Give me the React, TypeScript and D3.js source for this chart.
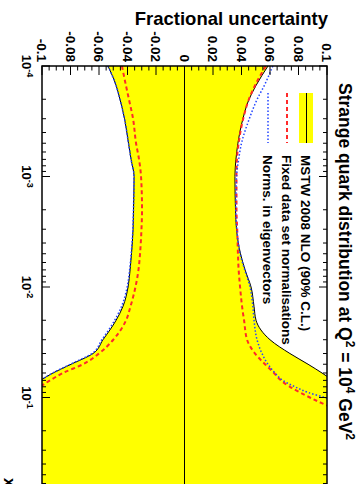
import React from "react";
import * as d3 from "d3";

// x grid (momentum fraction) and fractional uncertainties
const xs = [1e-4, 1.5e-4, 2e-4, 3e-4, 5e-4, 7e-4, 1e-3, 2e-3, 3e-3, 5e-3, 7e-3, 1e-2, 1.5e-2, 2e-2, 3e-2, 4e-2, 5e-2, 6e-2, 7e-2, 8e-2, 9e-2, 1e-1, 1.5e-1, 2e-1, 3e-1, 5e-1, 1];
const bandUp = [0.0586, 0.0502, 0.0453, 0.041, 0.0375, 0.0361, 0.0354, 0.0358, 0.0365, 0.0393, 0.0425, 0.0467, 0.0488, 0.0502, 0.06, 0.074, 0.0867, 0.0965, 0.104, 0.11, 0.117, 0.125, 0.16, 0.2, 0.3, 0.5, 1];
const bandDn = [-0.0537, -0.048, -0.0453, -0.0421, -0.0393, -0.0375, -0.0354, -0.0358, -0.0361, -0.0372, -0.0382, -0.0396, -0.0432, -0.048, -0.0572, -0.0642, -0.0796, -0.0923, -0.1014, -0.11, -0.117, -0.125, -0.16, -0.2, -0.3, -0.5, -1];
const fixedUp = [0.057, 0.0495, 0.0452, 0.0412, 0.038, 0.0368, 0.0365, 0.0365, 0.037, 0.0375, 0.038, 0.039, 0.0404, 0.0418, 0.0439, 0.0495, 0.0565, 0.0628, 0.0677, 0.074, 0.081, 0.088, 0.12, 0.15, 0.2, 0.3, 0.5];
const fixedDn = [-0.0439, -0.0411, -0.039, -0.0361, -0.034, -0.0319, -0.0305, -0.0298, -0.0302, -0.0312, -0.0323, -0.0344, -0.0379, -0.041, -0.05, -0.06, -0.0712, -0.0853, -0.0944, -0.1014, -0.108, -0.115, -0.15, -0.2, -0.3, -0.5, -1];
const eigUp = [0.062, 0.056, 0.051, 0.0455, 0.04, 0.038, 0.0365, 0.036, 0.0367, 0.039, 0.0423, 0.046, 0.048, 0.0488, 0.0509, 0.0544, 0.0586, 0.0635, 0.069, 0.0775, 0.0867, 0.0986, 0.13, 0.16, 0.2, 0.3, 0.5];
const eigDn = [-0.0537, -0.048, -0.0453, -0.0421, -0.0393, -0.0375, -0.0354, -0.0358, -0.0362, -0.0374, -0.0385, -0.0402, -0.0442, -0.049, -0.058, -0.065, -0.08, -0.0925, -0.1014, -0.11, -0.117, -0.125, -0.16, -0.2, -0.3, -0.5, -1];

const yTicks = [-0.1, -0.08, -0.06, -0.04, -0.02, 0, 0.02, 0.04, 0.06, 0.08, 0.1];
const yTickLabels = ["-0.1", "-0.08", "-0.06", "-0.04", "-0.02", "0", "0.02", "0.04", "0.06", "0.08", "0.1"];
const xDecades = [1e-4, 1e-3, 1e-2, 1e-1];
const xDecadeExp = ["-4", "-3", "-2", "-1"];
const legendItems = ["MSTW 2008 NLO (90% C.L.)", "Fixed data set normalisations", "Norms. in eigenvectors"];

const H = 362; // landscape height before rotation
const font = "'Liberation Sans', Arial, Helvetica, sans-serif";

export default function App() {
  // landscape chart coordinates, turned 90 degrees clockwise afterwards
  const x = d3.scaleLog().domain([1e-4, 1]).range([66, 508]);
  const y = d3.scaleLinear().domain([-0.1, 0.1]).range([320, 35]);

  const pts = (vals: number[]) => xs.map((d, i) => [d, vals[i]] as [number, number]);
  const line = d3
    .line<[number, number]>()
    .x((d) => x(d[0]))
    .y((d) => y(d[1]))
    .curve(d3.curveMonotoneX);
  const area = d3
    .area<number>()
    .x((d) => x(d))
    .y0((d, i) => y(bandDn[i]))
    .y1((d, i) => y(bandUp[i]))
    .curve(d3.curveMonotoneX);

  const minorY = d3.range(-0.1, 0.1001, 0.005);
  const minorX = x.ticks();

  return (
    <svg width={362} height={484} style={{ position: "absolute", left: 0, top: 0, fontFamily: font }}>
      <rect width={362} height={484} fill="white" />
      <defs>
        <clipPath id="frame">
          <rect x={66} y={35} width={442} height={285} />
        </clipPath>
      </defs>
      <g transform={`translate(${H},0) rotate(90)`}>
        <g clipPath="url(#frame)">
          <path d={area(xs) || ""} fill="#ffff00" />
          <path d={line(pts(bandUp)) || ""} fill="none" stroke="black" strokeWidth={1} />
          <path d={line(pts(bandDn)) || ""} fill="none" stroke="black" strokeWidth={1} />
          <path d={line(pts(fixedUp)) || ""} fill="none" stroke="#ff2a2a" strokeWidth={2} strokeDasharray="4,3" />
          <path d={line(pts(fixedDn)) || ""} fill="none" stroke="#ff2a2a" strokeWidth={2} strokeDasharray="4,3" />
          <path d={line(pts(eigUp)) || ""} fill="none" stroke="#2244ff" strokeWidth={1.5} strokeDasharray="1.5,2" />
          <path d={line(pts(eigDn)) || ""} fill="none" stroke="#2244ff" strokeWidth={1.5} strokeDasharray="1.5,2" />
          <line x1={66} x2={508} y1={y(0)} y2={y(0)} stroke="black" strokeWidth={1} />
        </g>

        {/* frame */}
        <rect x={66} y={35} width={442} height={285} fill="none" stroke="black" strokeWidth={1.5} />

        {/* value axis ticks (left side before rotation) */}
        {minorY.map((v, i) => {
          const major = i % 4 === 0;
          return <line key={"my" + i} x1={66} x2={66 + (major ? 9 : 4.5)} y1={y(v)} y2={y(v)} stroke="black" strokeWidth={1} />;
        })}
        {yTicks.map((v, i) => (
          <text key={"yl" + i} x={62} y={y(v)} dy="0.35em" textAnchor="end" fontSize={13.5} fontWeight="bold">
            {yTickLabels[i]}
          </text>
        ))}

        {/* log x axis ticks, bottom and top before rotation */}
        {minorX.map((v, i) => {
          const major = Math.abs(Math.log10(v) - Math.round(Math.log10(v))) < 1e-6;
          const len = major ? 8 : 4;
          return (
            <g key={"mx" + i}>
              <line x1={x(v)} x2={x(v)} y1={320} y2={320 - len} stroke="black" strokeWidth={1} />
              <line x1={x(v)} x2={x(v)} y1={35} y2={35 + len} stroke="black" strokeWidth={1} />
            </g>
          );
        })}
        {xDecades.map((v, i) => (
          <text key={"xl" + i} x={x(v)} y={340} textAnchor="middle" fontSize={13} fontWeight="bold">
            10
            <tspan fontSize={9} dy={-5}>
              {xDecadeExp[i]}
            </tspan>
          </text>
        ))}
        <text x={478} y={358} fontSize={16} fontWeight="bold">
          x
        </text>

        {/* title */}
        <text x={83} y={23} fontSize={17.5} fontWeight="bold">
          Strange quark distribution at Q
          <tspan fontSize={12} dy={-7}>2</tspan>
          <tspan dy={7}> = 10</tspan>
          <tspan fontSize={12} dy={-7}>4</tspan>
          <tspan dy={7}> GeV</tspan>
          <tspan fontSize={12} dy={-7}>2</tspan>
        </text>

        {/* legend */}
        <rect x={93} y={49} width={50} height={14} fill="#ffff00" />
        <line x1={93} x2={143} y1={55.5} y2={55.5} stroke="black" strokeWidth={1} />
        <line x1={93} x2={143} y1={75} y2={75} stroke="#ff2a2a" strokeWidth={2} strokeDasharray="4,3" />
        <line x1={93} x2={143} y1={94} y2={94} stroke="#2244ff" strokeWidth={1.5} strokeDasharray="1.5,2" />
        {legendItems.map((t, i) => (
          <text key={"lg" + i} x={155} y={[61, 80, 99][i]} fontSize={13.5} fontWeight="bold">
            {t}
          </text>
        ))}
      </g>

      <text x={328} y={25} textAnchor="end" fontSize={18.5} fontWeight="bold">
        Fractional uncertainty
      </text>
    </svg>
  );
}
